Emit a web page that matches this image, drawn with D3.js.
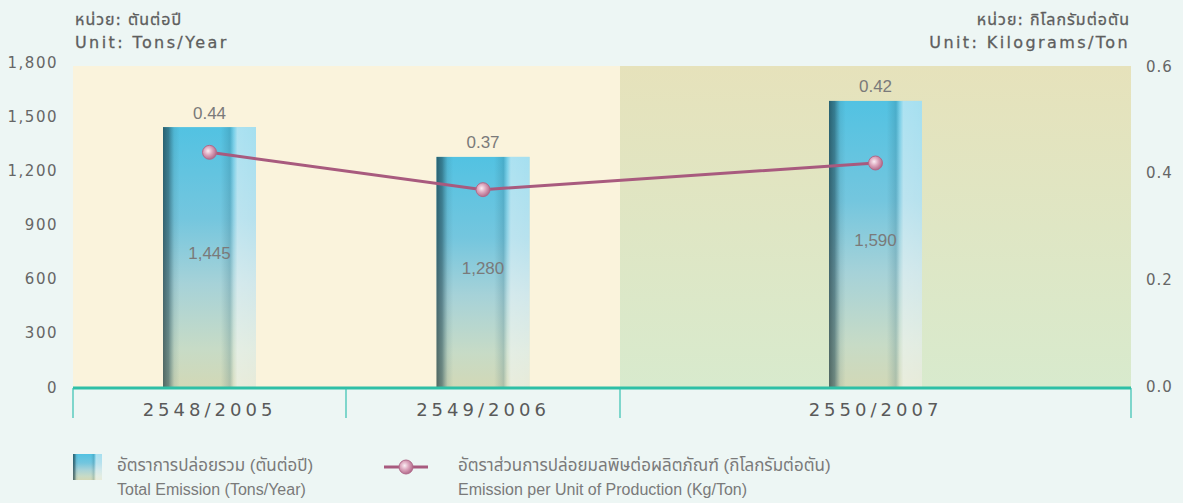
<!DOCTYPE html>
<html><head><meta charset="utf-8">
<script src="https://cdn.jsdelivr.net/npm/d3@7"></script>
<style>
html,body{margin:0;padding:0;background:#edf6f4;}
svg{display:block;}
</style></head>
<body>
<svg id="chart" width="1183" height="503"></svg>
<script>
const years = ["2548/2005", "2549/2006", "2550/2007"];
const totalEmission = [1445, 1280, 1590];
const emissionPerUnit = [0.44, 0.37, 0.42];
const leftTicks = [0, 300, 600, 900, 1200, 1500, 1800];
const rightTicks = [0, 0.2, 0.4, 0.6];
const legendThai = ["อัตราการปล่อยรวม (ตันต่อปี)", "อัตราส่วนการปล่อยมลพิษต่อผลิตภัณฑ์ (กิโลกรัมต่อตัน)"];
const legendEng = ["Total Emission (Tons/Year)", "Emission per Unit of Production (Kg/Ton)"];

const svg = d3.select("#chart");
const defs = svg.append("defs");
const monoFont = "'DejaVu Sans', 'Noto Sans', 'Noto Sans Thai', sans-serif";
const labelFont = "'Liberation Sans', Arial, 'Noto Sans Thai', sans-serif";

const x = d3.scaleLinear().domain([0, 1, 2, 3]).range([73, 346, 620, 1131]);
const yL = d3.scaleLinear().domain([0, 1800]).range([388, 63]);
const yR = d3.scaleLinear().domain([0, 0.6]).range([387, 67]);
const plotTop = 66, plotBottom = 387;
const barW = 93;

// gradients
const bg = defs.append("linearGradient").attr("id","bgGreen").attr("x1",0).attr("y1",0).attr("x2",0).attr("y2",1);
bg.append("stop").attr("offset",0).attr("stop-color","#e6e2bb");
bg.append("stop").attr("offset",1).attr("stop-color","#d8eacd");

const bv = defs.append("linearGradient").attr("id","barV").attr("x1",0).attr("y1",0).attr("x2",0).attr("y2",1);
[[0,"#52c2e2"],[0.35,"#74c6de"],[0.6,"#a6d2d8"],[0.85,"#c7dbc6"],[1,"#d2d8b6"]].forEach(s=>
  bv.append("stop").attr("offset",s[0]).attr("stop-color",s[1]));

const bh = defs.append("linearGradient").attr("id","barH").attr("x1",0).attr("y1",0).attr("x2",1).attr("y2",0);
[[0,"#14323a",0.68],[0.06,"#1c4450",0.55],[0.12,"#2a5a66",0.12],[0.18,"#2a5a66",0],[0.62,"#2a5a66",0],
 [0.72,"#1e5a6e",0.2],[0.76,"#ffffff",0.2],[0.8,"#ffffff",0.52],[1,"#ffffff",0.48]].forEach(s=>
  bh.append("stop").attr("offset",s[0]).attr("stop-color",s[1]).attr("stop-opacity",s[2]));

const mk = defs.append("radialGradient").attr("id","marker").attr("cx","40%").attr("cy","40%").attr("r","60%");
mk.append("stop").attr("offset",0).attr("stop-color","#fbeef4");
mk.append("stop").attr("offset",0.5).attr("stop-color","#dca6bd");
mk.append("stop").attr("offset",1).attr("stop-color","#b46c8c");

// panel backgrounds
svg.append("rect").attr("x", x(0)).attr("y", plotTop).attr("width", x(2)-x(0)).attr("height", plotBottom-plotTop).attr("fill","#faf3dc");
svg.append("rect").attr("x", x(2)).attr("y", plotTop).attr("width", x(3)-x(2)).attr("height", plotBottom-plotTop).attr("fill","url(#bgGreen)");

// bars
const bars = svg.append("g");
years.forEach((yr,i)=>{
  const cx = x(i+0.5);
  const top = yL(totalEmission[i]);
  bars.append("rect").attr("x", cx-barW/2).attr("y", top).attr("width", barW).attr("height", yL(0)-top).attr("fill","url(#barV)");
  bars.append("rect").attr("x", cx-barW/2).attr("y", top).attr("width", barW).attr("height", yL(0)-top).attr("fill","url(#barH)");
  bars.append("text").attr("x", cx).attr("y", (top+yL(0))/2 - 3).attr("text-anchor","middle").attr("dominant-baseline","middle")
    .attr("font-family", labelFont).attr("font-size", 17).attr("fill","#7a7a7a").text(d3.format(",")(totalEmission[i]));
  bars.append("text").attr("x", cx).attr("y", top - 13).attr("text-anchor","middle").attr("dominant-baseline","middle")
    .attr("font-family", labelFont).attr("font-size", 17).attr("fill","#7a7a7a").text(d3.format(".2f")(emissionPerUnit[i]));
});

// x axis
svg.append("line").attr("x1", x(0)).attr("x2", x(3)).attr("y1", 388).attr("y2", 388).attr("stroke","#2ebfa6").attr("stroke-width",3);
[0,1,2,3].forEach(k=>{
  svg.append("line").attr("x1", x(k)).attr("x2", x(k)).attr("y1", 388).attr("y2", 418).attr("stroke","#35c2b0").attr("stroke-width",1.2);
});
years.forEach((yr,i)=>{
  svg.append("text").attr("x", x(i+0.5)).attr("y", 411).attr("text-anchor","middle").attr("dominant-baseline","middle")
    .attr("font-family", monoFont).attr("font-size", 18).attr("letter-spacing", "4px").attr("fill","#5a5a5a").text(yr);
});

// left axis
const la = svg.append("g");
leftTicks.forEach(t=>{
  la.append("text").attr("x", 58).attr("y", yL(t)).attr("text-anchor","end").attr("dominant-baseline","middle")
    .attr("font-family", monoFont).attr("font-size", 15).attr("letter-spacing","1.5px").attr("fill","#666").text(d3.format(",")(t));
});
// right axis
rightTicks.forEach(t=>{
  la.append("text").attr("x", 1146).attr("y", yR(t)).attr("text-anchor","start").attr("dominant-baseline","middle")
    .attr("font-family", monoFont).attr("font-size", 15).attr("letter-spacing","1px").attr("fill","#666").text(d3.format(".1f")(t));
});

// unit headers
const hdr = (xx, yy, anchor, txt, ls) => svg.append("text").attr("x", xx).attr("y", yy).attr("text-anchor", anchor)
  .attr("dominant-baseline","middle").attr("font-family", monoFont).attr("font-size",16)
  .attr("letter-spacing", ls).attr("fill","#5e5e5e").attr("stroke","#5e5e5e").attr("stroke-width",0.3).text(txt);
hdr(75, 20, "start", "หน่วย: ตันต่อปี", "1px");
hdr(75, 43, "start", "Unit: Tons/Year", "2.4px");
hdr(1130, 20, "end", "หน่วย: กิโลกรัมต่อตัน", "1px");
hdr(1130, 43, "end", "Unit: Kilograms/Ton", "2.4px");

// line
const line = d3.line().x((d,i)=>x(i+0.5)).y(d=>yR(d));
svg.append("path").datum(emissionPerUnit).attr("d", line).attr("fill","none").attr("stroke","#a85a7e").attr("stroke-width",3);
svg.append("g").selectAll("circle").data(emissionPerUnit).join("circle")
  .attr("cx",(d,i)=>x(i+0.5)).attr("cy", d=>yR(d)).attr("r",7)
  .attr("fill","url(#marker)").attr("stroke","#b06a8a").attr("stroke-width",1);

// legend
const lg = svg.append("g");
lg.append("rect").attr("x",73).attr("y",454).attr("width",29).attr("height",26).attr("fill","url(#barV)");
lg.append("rect").attr("x",73).attr("y",454).attr("width",29).attr("height",26).attr("fill","url(#barH)");
lg.append("line").attr("x1",384).attr("x2",428).attr("y1",467).attr("y2",467).attr("stroke","#a85a7e").attr("stroke-width",3);
lg.append("circle").attr("cx",406).attr("cy",467).attr("r",7).attr("fill","url(#marker)").attr("stroke","#b06a8a");
[[117,0],[458,1]].forEach(([lx,i])=>{
  lg.append("text").attr("x",lx).attr("y",467).attr("dominant-baseline","middle").attr("font-family",labelFont).attr("font-size",17).attr("fill","#7a7a7a").text(legendThai[i]);
  lg.append("text").attr("x",lx).attr("y",491).attr("dominant-baseline","middle").attr("font-family",labelFont).attr("font-size",16).attr("fill","#7a7a7a").text(legendEng[i]);
});
</script>
</body></html>
